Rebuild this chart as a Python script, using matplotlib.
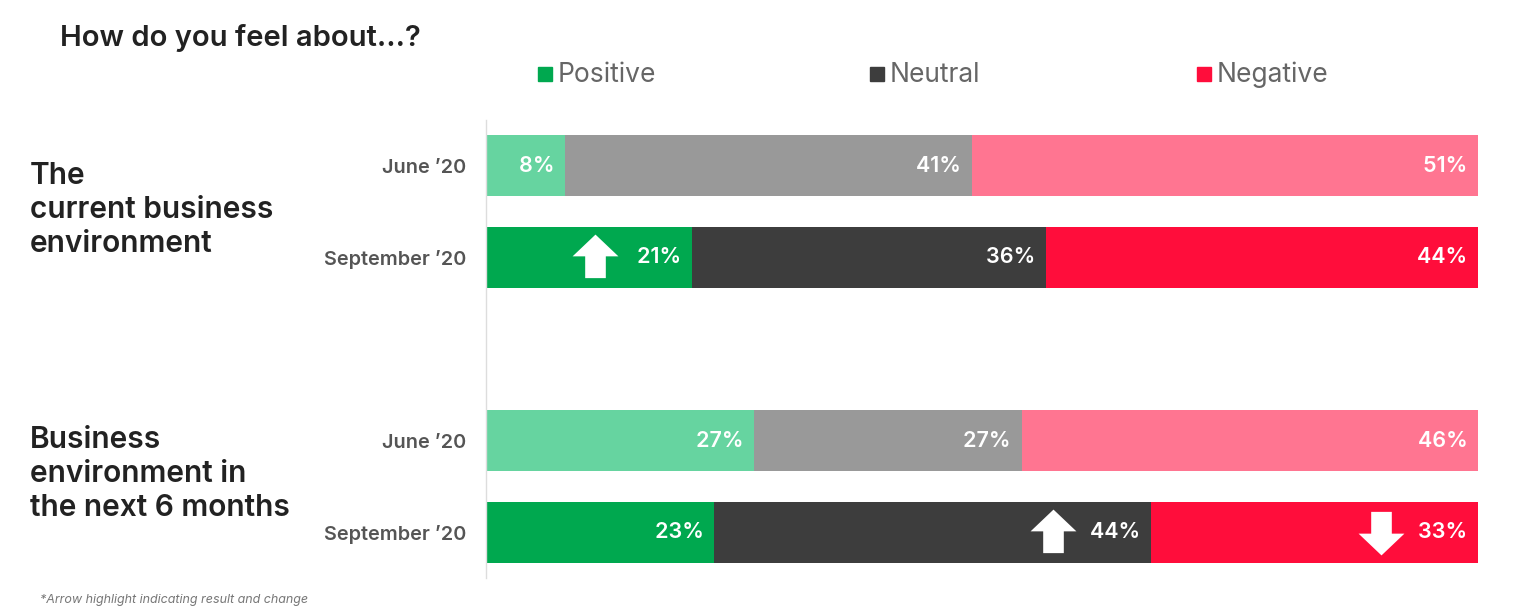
import matplotlib.pyplot as plt
import matplotlib.transforms as mtransforms
from matplotlib.path import Path
import numpy as np

plt.rcParams['font.family'] = ['Inter', 'DejaVu Sans']

# data
categories = ['Positive', 'Neutral', 'Negative']
row_labels = ['June \u201920', 'September \u201920', 'June \u201920', 'September \u201920']
group_labels = ['The\ncurrent business\nenvironment', 'Business\nenvironment in\nthe next 6 months']
positive = [8, 21, 27, 23]
neutral = [41, 36, 27, 44]
negative = [51, 44, 46, 33]
# (row, segment, direction) for highlight arrows
arrows = [(1, 0, 'up'), (3, 1, 'up'), (3, 2, 'down')]

# styles
light_colors = ['#66d4a0', '#999999', '#ff7591']
dark_colors = ['#00a84f', '#3d3d3d', '#ff0d3b']
row_pos = [0, 1, 3, 4]
row_light = [True, False, True, False]

fig = plt.figure(figsize=(15.2, 6.08), dpi=100)
ax = fig.add_axes([486 / 1520, 1 - 578 / 608, 992 / 1520, 458 / 608])

values = np.array([positive, neutral, negative], dtype=float).T
shares = values / values.sum(axis=1, keepdims=True) * 100

for i, y in enumerate(row_pos):
    left = 0
    cols = light_colors if row_light[i] else dark_colors
    for j in range(3):
        w = shares[i, j]
        ax.barh(y, w, left=left, height=0.667, color=cols[j], edgecolor='none')
        ax.text(left + w, y, f'{values[i, j]:.0f}%  ', ha='right', va='center',
                color='white', fontsize=15.5, fontweight='semibold')
        left += w

# arrow markers
up = Path([(-1, 0.05), (0, 1), (1, 0.05), (0.45, 0.05), (0.45, -0.9),
           (-0.45, -0.9), (-0.45, 0.05), (-1, 0.05)], closed=True)
down = Path([(x, -y) for x, y in up.vertices], closed=True)
for r, s, d in arrows:
    x_end = shares[r, :s + 1].sum()
    tr = mtransforms.offset_copy(ax.transData, fig=fig, x=-70, y=0, units='points')
    ax.plot([x_end], [row_pos[r]], marker=up if d == 'up' else down, markersize=33,
            color='white', markeredgewidth=0, transform=tr, linestyle='none')

ax.set_xlim(0, 100)
ax.set_ylim(4.5, -0.5)
ax.set_yticks(row_pos)
ax.set_yticklabels(row_labels, fontsize=14.3, color='#555555', fontweight='semibold')
ax.tick_params(axis='y', length=0, pad=14)
ax.set_xticks([])
for s in ['top', 'right', 'bottom']:
    ax.spines[s].set_visible(False)
ax.spines['left'].set_color('#dddddd')
ax.spines['left'].set_linewidth(1)

# group labels
fig.text(30 / 1520, 1 - 210 / 608, group_labels[0], fontsize=21.5, color='#222222',
         fontweight='semibold', va='center', ha='left', linespacing=1.25)
fig.text(30 / 1520, 1 - 474 / 608, group_labels[1], fontsize=21.5, color='#222222',
         fontweight='semibold', va='center', ha='left', linespacing=1.25)

# title
fig.text(60 / 1520, 1 - 38 / 608, 'How do you feel about...?', fontsize=21,
         color='#222222', fontweight='semibold', va='center', ha='left')

# legend
legend_x = [538, 870, 1197]
for cat, col, lx in zip(categories, dark_colors, legend_x):
    fig.patches.append(plt.Rectangle((lx / 1520, 1 - 81 / 608), 14 / 1520, 14 / 608,
                                     transform=fig.transFigure, color=col))
    fig.text((lx + 20) / 1520, 1 - 75 / 608, cat, fontsize=19, color='#666666',
             va='center', ha='left')

# footnote
fig.text(40 / 1520, 2 / 608, '*Arrow highlight indicating result and change',
         fontsize=9, color='#777777', style='italic', va='bottom', ha='left')

fig.savefig('out.png', dpi=100)
